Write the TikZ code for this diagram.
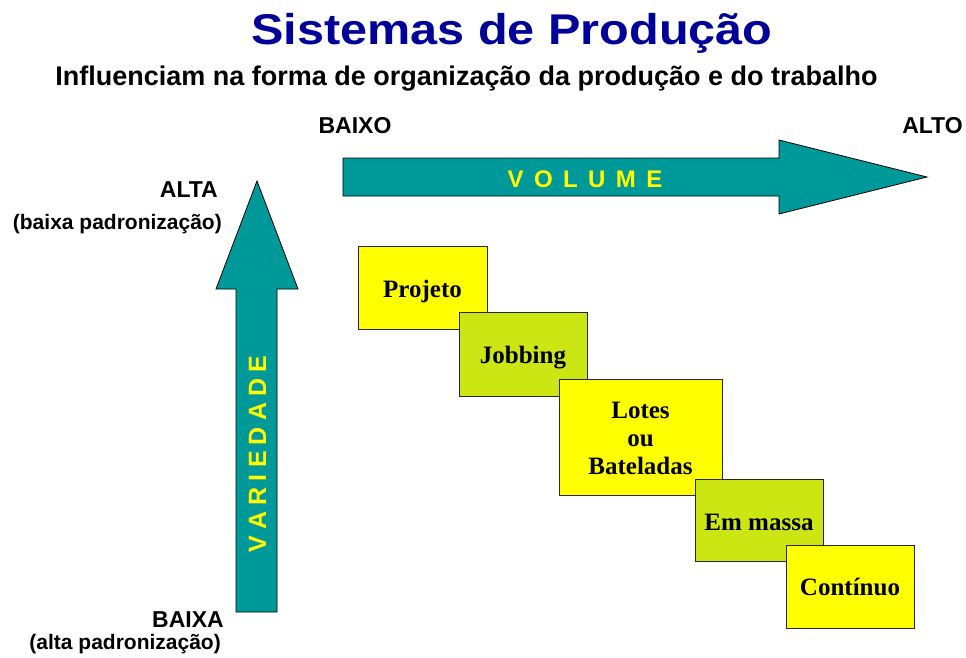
\documentclass[tikz,border=0pt]{standalone}
\usepackage{fontspec}
\setmainfont{Liberation Serif}
\setsansfont{Liberation Sans}
\definecolor{tealarrow}{RGB}{0,153,153}
\definecolor{boxyellow}{RGB}{255,255,0}
\definecolor{boxgreen}{RGB}{204,230,20}
\definecolor{titleblue}{RGB}{0,0,153}
\definecolor{letteryellow}{RGB}{255,255,0}
\newcommand{\fsz}[1]{\fontsize{#1}{#1}\selectfont}
\newcommand{\lowerby}[2]{\raisebox{-#1}[\height][\depth]{#2}}
\tikzset{
  lbl/.style={inner sep=0pt, font=\sffamily\bfseries\fsz{23}},
  paren/.style={inner sep=0pt, font=\sffamily\bfseries\fsz{21}},
  bigarrow/.style={fill=tealarrow, draw=black, line width=0.8pt, line join=miter},
  stage/.style={draw=black!85, line width=1pt, inner sep=0pt, align=center,
    font=\rmfamily\bfseries\fontsize{25}{28}\selectfont, minimum width=128pt, minimum height=83pt},
  yel/.style={fill=boxyellow},
  grn/.style={fill=boxgreen},
}
\begin{document}
\begin{tikzpicture}[x=1pt,y=-1pt]
\useasboundingbox (0,0) rectangle (966,657);
% title
\node[inner sep=0pt, anchor=base, text=titleblue, font=\sffamily\bfseries\fsz{43}] (title) at (512,44)
  {\scalebox{1.13}[1]{Sistemas de Produção}};
\node[inner sep=0pt, anchor=base, font=\sffamily\bfseries\fsz{27}] (subtitle) at (466.5,85)
  {Influenciam na forma de organização da produção e do trabalho};
% horizontal arrow
\draw[bigarrow] (343,158) -- (779,158) -- (779,140) -- (927,177) -- (779,214) -- (779,196) -- (343,196) -- cycle;
\node[inner sep=0pt, text=letteryellow, font=\sffamily\bfseries\fsz{24}] (volume) at (585,179)
  {V\hspace{10.4pt}O\hspace{10.4pt}L\hspace{10.4pt}U\hspace{10.4pt}M\hspace{10.4pt}E};
% vertical arrow
\draw[bigarrow] (236,612) -- (236,289) -- (216,289) -- (257,181) -- (298,289) -- (277,289) -- (277,612) -- cycle;
\node[inner sep=0pt, rotate=90, text=letteryellow, font=\sffamily\bfseries\fsz{25}] (variedade) at (257.5,454)
  {V\hspace{6.2pt}A\hspace{6.2pt}R\hspace{6.2pt}I\hspace{6.2pt}E\hspace{6.2pt}D\hspace{6.2pt}A\hspace{6.2pt}D\hspace{6.2pt}E};
% axis labels
\node[lbl] (baixo) at (355,126) {BAIXO};
\node[lbl] (alto) at (932.5,126) {ALTO};
\node[lbl, anchor=east] (alta) at (218,190) {ALTA};
\node[paren, anchor=east] (altapad) at (222,224) {(baixa padronização)};
\node[lbl, anchor=east] (baixa) at (224,620) {BAIXA};
\node[paren, anchor=east] (baixapad) at (221,644) {(alta padronização)};
% stages
\node[stage, yel, minimum width=129pt] (projeto) at (422.5,287.5) {\lowerby{4pt}{Projeto}};
\node[stage, grn, minimum height=84pt] (jobbing) at (523,354) {\lowerby{4pt}{Jobbing}};
\node[stage, yel, minimum width=163pt, minimum height=116pt] (lotes) at (640.5,437)
  {\lowerby{4pt}{\begin{tabular}{@{}c@{}}Lotes\\ou\\Bateladas\end{tabular}}};
\node[stage, grn, minimum height=82pt] (massa) at (759,520) {\lowerby{2pt}{Em massa}};
\node[stage, yel] (continuo) at (850,586.5) {Contínuo};
\end{tikzpicture}
\end{document}
